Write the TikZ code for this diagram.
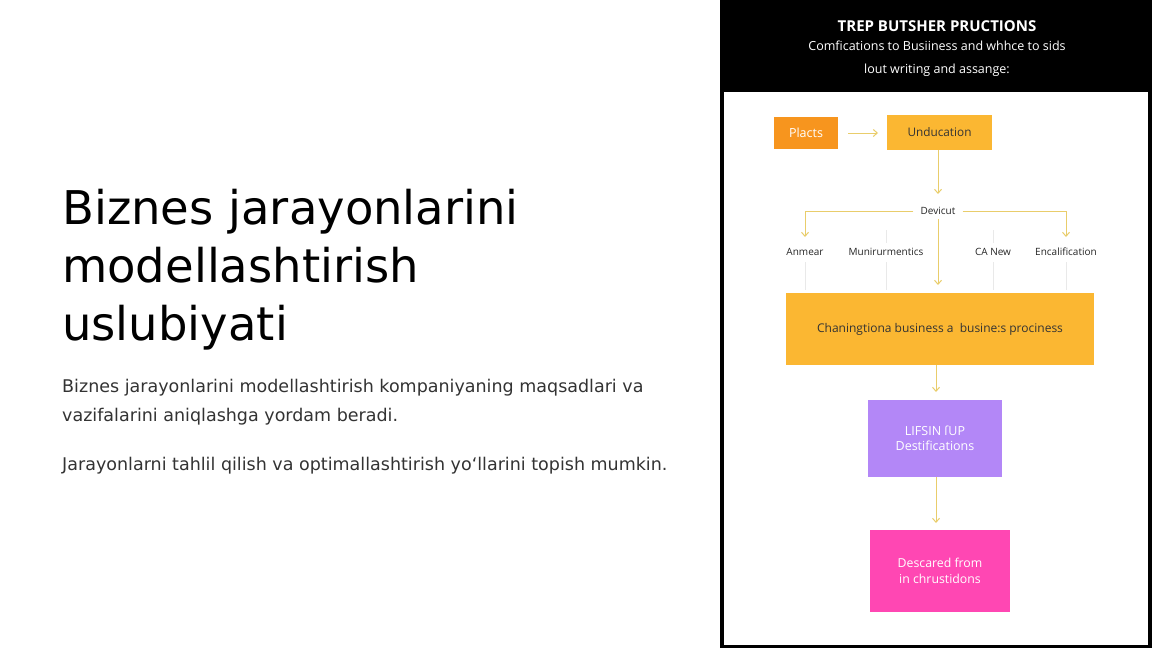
\documentclass[tikz,border=0pt]{standalone}
\usepackage{fontspec}
\setmainfont{DejaVu Sans}
\newfontfamily\osans{Open Sans}
\usetikzlibrary{arrows.meta,calc}
\definecolor{porange}{HTML}{F7951E}
\definecolor{pyellow}{HTML}{FBB732}
\definecolor{ppurple}{HTML}{B387F7}
\definecolor{ppink}{HTML}{FF47B3}
\definecolor{parrow}{HTML}{E9CD6B}
\definecolor{pfaint}{HTML}{E9E9E9}
\definecolor{bodygray}{HTML}{333333}
\tikzset{
  boxst/.style={draw=none, inner sep=0pt, font=\osans\fontsize{12.3}{16}\selectfont, align=center},
  flow/.style={draw=parrow, line width=1pt, -{Straight Barb[length=4pt,width=7pt]}},
  plainline/.style={draw=parrow, line width=1pt},
  faint/.style={draw=pfaint, line width=0.8pt},
  lbl/.style={font=\osans\fontsize{10}{12}\selectfont, text=black!85, inner sep=1pt},
}
\begin{document}
\begin{tikzpicture}[x=1pt,y=-1pt]
\useasboundingbox (0,0) rectangle (1152,648);
\fill[white] (0,0) rectangle (1152,648);
% left text
\node[anchor=base west, inner sep=0pt, font=\fontsize{46.5}{58}\selectfont] (t1) at (62,224) {Biznes jarayonlarini};
\node[anchor=base west, inner sep=0pt, font=\fontsize{46.5}{58}\selectfont] (t2) at (62,282) {modellashtirish};
\node[anchor=base west, inner sep=0pt, font=\fontsize{46.5}{58}\selectfont] (t3) at (62,340) {uslubiyati};
\node[anchor=base west, inner sep=0pt, text=bodygray, font=\fontsize{17.5}{20}\selectfont] (b1) at (62,392) {Biznes jarayonlarini modellashtirish kompaniyaning maqsadlari va};
\node[anchor=base west, inner sep=0pt, text=bodygray, font=\fontsize{17.5}{20}\selectfont] (b2) at (62,421) {vazifalarini aniqlashga yordam beradi.};
\node[anchor=base west, inner sep=0pt, text=bodygray, font=\fontsize{17.5}{20}\selectfont] (b3) at (62,470) {Jarayonlarni tahlil qilish va optimallashtirish yo‘llarini topish mumkin.};
% right panel
\fill[black] (720,0) rectangle (1152,648);
\fill[white] (724,92) rectangle (1148,645);
\node[anchor=base, text=white, font=\osans\bfseries\fontsize{15}{17}\selectfont, inner sep=0pt] (h1) at (937,31) {TREP BUTSHER PRUCTIONS};
\node[anchor=base, text=white, font=\osans\fontsize{12.5}{14}\selectfont, inner sep=0pt] (h2) at (937,50) {Comfications to Busiiness and whhce to sids};
\node[anchor=base, text=white, font=\osans\fontsize{12.5}{14}\selectfont, inner sep=0pt] (h3) at (937,73) {lout writing and assange:};
% boxes
\node[boxst, fill=porange, text=white, minimum width=64pt, minimum height=32pt, font=\osans\fontsize{12.5}{16}\selectfont] (placts) at (806,133) {Placts};
\node[boxst, fill=pyellow, text=black!80, minimum width=105pt, minimum height=35pt, font=\osans\fontsize{11.8}{16}\selectfont] (unduc) at (939.5,132.5) {Unducation};
\node[lbl] (devicut) at (938,211) {Devicut};
\node[lbl] (anmear) at (805,252) {Anmear};
\node[lbl] (munir) at (886,252) {Munirurmentics};
\node[lbl] (canew) at (993,252) {CA New};
\node[lbl] (encal) at (1066,252) {Encalification};
\node[boxst, fill=pyellow, text=black!80, minimum width=308pt, minimum height=72pt, font=\osans\fontsize{12}{14}\selectfont] (chan) at (940,329) {Chaningtiona business a\ \ busine:s prociness};
\node[boxst, fill=ppurple, text=white, minimum width=134pt, minimum height=77pt, font=\osans\fontsize{12.5}{15.5}\selectfont] (lifsin) at (935,438.5) {LIFSIN ſUP\\Destifications};
\node[boxst, fill=ppink, text=white, minimum width=140pt, minimum height=82pt, font=\osans\fontsize{12.3}{15.5}\selectfont] (desc) at (940,571) {Descared from\\in chrustidons};
% connectors
\coordinate (pa) at (848,133);
\coordinate (pb) at (878,133);
\draw[flow] (pa) -- (pb);
\draw[flow] (938,150) -- (938,194);
\coordinate (lft) at (805,211);
\coordinate (rgt) at (1066,211);
\draw[plainline] ($(devicut.west)+(-6,0)$) -- (lft);
\draw[flow] (lft) -- ++(0,26);
\draw[plainline] ($(devicut.east)+(6,0)$) -- (rgt);
\draw[flow] (rgt) -- ++(0,26);
\draw[flow] ($(devicut.south)+(0,3)$) -- (938,285);
\draw[flow] (936,365) -- (936,392);
\draw[flow] (936,477) -- (936,523);
% faint guides
\foreach \x in {805, 886, 993, 1066}{
  \draw[faint] (\x,262) -- (\x,290);
}
\draw[faint] (886,230) -- (886,243);
\draw[faint] (993,230) -- (993,243);
\end{tikzpicture}
\end{document}
